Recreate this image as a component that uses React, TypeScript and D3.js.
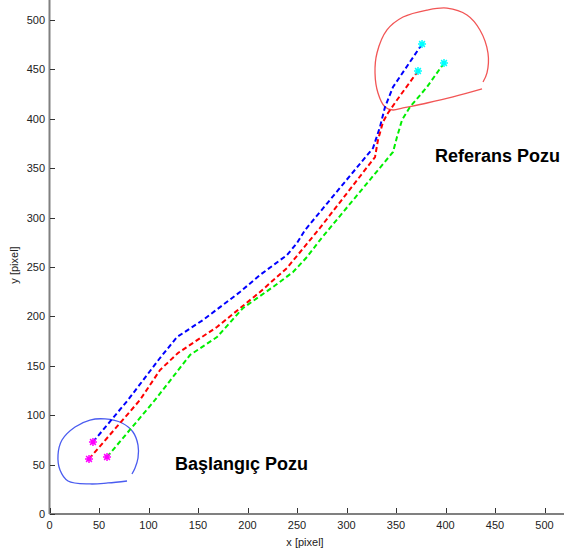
import { useEffect, useRef } from "react";
import * as d3 from "d3";

type Pt = [number, number];

// path points, in pixel units of the image (data coords)
const bluePath: Pt[] = [
  [43.9, 72.9], [79.3, 115.4], [111.6, 157.9], [128.8, 179.1], [155.1, 196.4],
  [192.4, 224.7], [212.6, 241.9], [239.9, 262.1], [250.0, 274.3], [258.1, 287.4],
  [326.8, 370.4], [333.8, 391.7], [338.9, 411.9], [347.0, 432.2], [376.3, 475.7],
];
const redPath: Pt[] = [
  [39.9, 55.7], [91.4, 115.4], [111.6, 145.7], [129.8, 163.0], [169.2, 189.3],
  [212.6, 224.7], [239.9, 249.0], [273.2, 289.5], [328.8, 361.3], [331.8, 378.5],
  [336.9, 396.8], [341.9, 405.9], [351.0, 419.0], [372.2, 448.4],
];
const greenPath: Pt[] = [
  [58.1, 57.7], [106.6, 115.4], [141.9, 160.9], [169.2, 179.1], [195.5, 208.5],
  [225.8, 229.8], [246.0, 244.9], [260.1, 260.1], [273.2, 277.3], [347.0, 366.4],
  [351.0, 381.6], [356.1, 398.8], [364.1, 411.9], [381.3, 432.2], [398.5, 456.5],
];

// hand drawn marks around start / reference poses
const startLoop: Pt[] = [
  [78.3, 33.4], [59.1, 31.4], [40.9, 30.4], [18.7, 33.4], [10.6, 44.5], [8.6, 59.7],
  [12.6, 74.9], [25.8, 88.1], [40.9, 95.1], [56.1, 96.2], [73.2, 92.1], [84.3, 83.0],
  [89.4, 69.8], [89.4, 56.7], [86.4, 46.6], [83.3, 40.5],
];
const refLoop: Pt[] = [
  [436.9, 430.2], [407.6, 422.1], [381.3, 416.0], [357.1, 411.0], [347.0, 408.9],
  [338.9, 411.9], [331.8, 426.1], [328.8, 446.4], [330.8, 466.6], [340.9, 489.9],
  [357.1, 503.0], [381.3, 510.1], [401.5, 512.1], [421.7, 505.1], [434.8, 489.9],
  [442.9, 466.6], [441.9, 446.4], [437.9, 437.2],
];

const xTicks = [0, 50, 100, 150, 200, 250, 300, 350, 400, 450, 500];
const yTicks = [0, 50, 100, 150, 200, 250, 300, 350, 400, 450, 500];

const width = 564;
const height = 558;

function starPath(cx: number, cy: number, r: number) {
  const d = r * 0.72;
  return `M${cx - r},${cy}L${cx + r},${cy}M${cx},${cy - r}L${cx},${cy + r}` +
    `M${cx - d},${cy - d}L${cx + d},${cy + d}M${cx - d},${cy + d}L${cx + d},${cy - d}`;
}

export default function App() {
  const svgRef = useRef<SVGSVGElement>(null);

  useEffect(() => {
    if (!svgRef.current) return;
    const svg = d3.select(svgRef.current);
    svg.selectAll("*").remove();

    const x = d3.scaleLinear().domain([0, 500]).range([49.5, 544.5]);
    const y = d3.scaleLinear().domain([0, 500]).range([514, 20]);
    const font = "'Liberation Sans', Arial, sans-serif";

    // axis lines (the figure is cropped on the top and right)
    svg.append("line")
      .attr("x1", 49.5).attr("x2", width).attr("y1", 514).attr("y2", 514)
      .attr("stroke", "#808080").attr("stroke-width", 2);
    svg.append("line")
      .attr("x1", 49.5).attr("x2", 49.5).attr("y1", 0).attr("y2", 514)
      .attr("stroke", "#808080").attr("stroke-width", 2);

    // ticks point inward
    xTicks.forEach(t => {
      svg.append("line")
        .attr("x1", Math.round(x(t)) + 0.5).attr("x2", Math.round(x(t)) + 0.5)
        .attr("y1", 513).attr("y2", 508)
        .attr("stroke", "#333").attr("stroke-width", 1);
      svg.append("text")
        .attr("x", x(t)).attr("y", 529)
        .attr("text-anchor", "middle")
        .attr("font-family", font).attr("font-size", "11px").attr("fill", "#222")
        .text(t);
    });
    yTicks.forEach(t => {
      svg.append("line")
        .attr("x1", 50).attr("x2", 55)
        .attr("y1", Math.round(y(t)) + 0.5).attr("y2", Math.round(y(t)) + 0.5)
        .attr("stroke", "#333").attr("stroke-width", 1);
      svg.append("text")
        .attr("x", 45).attr("y", y(t) + 4)
        .attr("text-anchor", "end")
        .attr("font-family", font).attr("font-size", "11px").attr("fill", "#222")
        .text(t);
    });

    svg.append("text")
      .attr("x", 305).attr("y", 546)
      .attr("text-anchor", "middle")
      .attr("font-family", font).attr("font-size", "11px").attr("fill", "#222")
      .text("x [pixel]");
    svg.append("text")
      .attr("transform", "rotate(-90)")
      .attr("x", -265).attr("y", 18)
      .attr("text-anchor", "middle")
      .attr("font-family", font).attr("font-size", "11px").attr("fill", "#222")
      .text("y [pixel]");

    const line = d3.line<Pt>().x(d => x(d[0])).y(d => y(d[1]));
    const freehand = d3.line<Pt>().x(d => x(d[0])).y(d => y(d[1])).curve(d3.curveCatmullRom);

    // hand drawn loops
    svg.append("path").attr("d", freehand(startLoop))
      .attr("fill", "none").attr("stroke", "#4a5cf0").attr("stroke-width", 1.3);
    svg.append("path").attr("d", freehand(refLoop))
      .attr("fill", "none").attr("stroke", "#f25555").attr("stroke-width", 1.3);

    const series: [Pt[], string][] = [
      [bluePath, "#0000ff"],
      [redPath, "#ff0000"],
      [greenPath, "#00ee00"],
    ];
    series.forEach(([data, color]) => {
      svg.append("path").attr("d", line(data))
        .attr("fill", "none").attr("stroke", color)
        .attr("stroke-width", 2).attr("stroke-dasharray", "5,3");
    });

    // start (magenta) and end (cyan) markers
    series.forEach(([data]) => {
      const s = data[0];
      const e = data[data.length - 1];
      svg.append("path").attr("d", starPath(x(s[0]), y(s[1]), 4))
        .attr("stroke", "#ff00ff").attr("stroke-width", 1.5).attr("fill", "none");
      svg.append("path").attr("d", starPath(x(e[0]), y(e[1]), 4))
        .attr("stroke", "#00ffff").attr("stroke-width", 1.5).attr("fill", "none");
    });

    // annotations
    svg.append("text")
      .attr("x", 435).attr("y", 162)
      .attr("font-family", font).attr("font-size", "18px").attr("font-weight", "bold")
      .attr("fill", "#000")
      .text("Referans Pozu");
    svg.append("text")
      .attr("x", 175).attr("y", 470)
      .attr("font-family", font).attr("font-size", "18px").attr("font-weight", "bold")
      .attr("fill", "#000")
      .text("Başlangıç Pozu");
  }, []);

  return (
    <svg
      ref={svgRef}
      width={width}
      height={height}
      style={{ position: "absolute", left: 0, top: 0, background: "#fff" }}
    />
  );
}
